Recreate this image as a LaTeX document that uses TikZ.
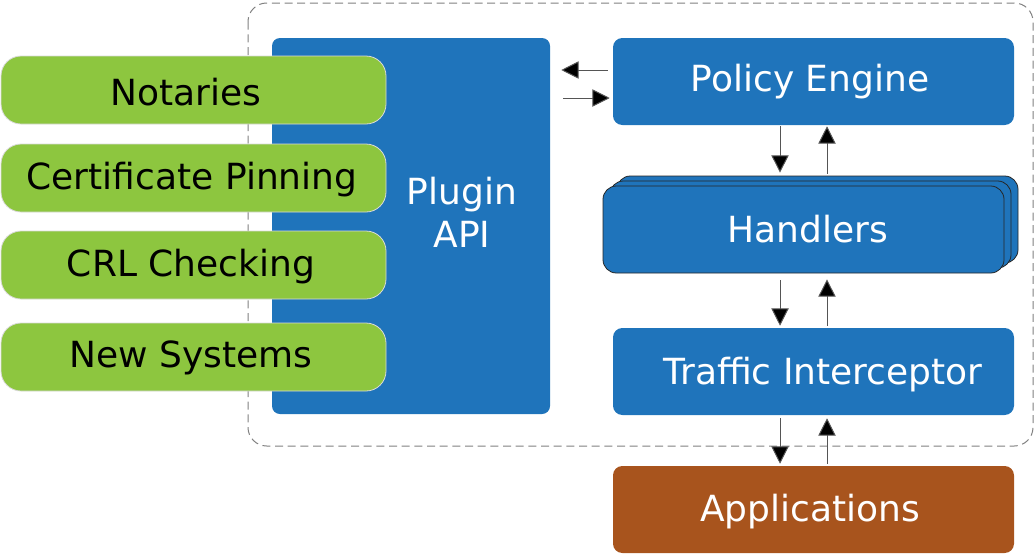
\documentclass[tikz,border=0pt]{standalone}
\usepackage{fontspec}
\setmainfont{DejaVu Sans}
\usetikzlibrary{arrows.meta,calc}
\definecolor{cblue}{HTML}{1F74BB}
\definecolor{cgreen}{HTML}{8DC63F}
\definecolor{cbrown}{HTML}{A8541D}
\definecolor{cline}{HTML}{555555}
\tikzset{
  greenbox/.style={draw=white!85!black, line width=0.6pt, fill=cgreen, rounded corners=15pt,
    minimum width=288.75pt, minimum height=51pt, inner sep=0pt},
  bluebox/.style={fill=cblue, rounded corners=7pt, minimum width=300.75pt, minimum height=65.25pt,
    inner sep=0pt},
  stackbox/.style={draw=black!85, line width=0.6pt, fill=cblue, rounded corners=10pt,
    minimum width=300.75pt, minimum height=65.25pt, inner sep=0pt},
  label/.style={text=white, inner sep=0pt, align=center, font=\fontsize{27}{32.5}\selectfont},
  blabel/.style={text=black, inner sep=0pt, align=center, font=\fontsize{27}{32.5}\selectfont},
  arr/.style={draw=cline, line width=0.75pt, -{Triangle[length=13pt,width=13pt,fill=black]}},
}
\begin{document}
\begin{tikzpicture}[x=0.75pt,y=-0.75pt]
\useasboundingbox (0,0) rectangle (1034,554);
% outer dashed frame
\draw[draw=gray, line width=0.75pt, dash pattern=on 6pt off 3.5pt, rounded corners=14pt]
  (248,3) rectangle (1033,446);
% plugin API
\node[fill=cblue, rounded corners=6pt, minimum width=208.5pt, minimum height=282pt, inner sep=0pt] (api) at (411,226) {};
\node[label] (apitext) at (462,212) {Plugin\\API};
% green boxes
\node[greenbox] (notaries) at (193.5,90) {};
\node[greenbox] (pinning) at (193.5,178) {};
\node[greenbox] (crl) at (193.5,265) {};
\node[greenbox] (newsys) at (193.5,357) {};
\node[blabel] (notariestext) at (186,92) {Notaries};
\node[blabel] (pinningtext) at (192,180) {Certificate Pinning};
\node[blabel] (crltext) at (191,267) {CRL Checking};
\node[blabel] (newsystext) at (191,358) {New Systems};
% right column
\node[bluebox] (pe) at (813.5,81.5) {};
\node[label] (petext) at (810,82) {Policy Engine};
\node[stackbox] (h3) at (817.5,219.5) {};
\node[stackbox] (h2) at (810.5,224.5) {};
\node[stackbox] (h) at (803.5,229.5) {};
\node[label] (htext) at (808,229) {Handlers};
\node[bluebox] (ti) at (813.5,371.5) {};
\node[label] (titext) at (823,375) {Traffic Interceptor};
\node[bluebox, fill=cbrown] (apps) at (813.5,509.5) {};
\node[label] (appstext) at (810,512) {Applications};
% arrows
\coordinate (xd) at (780,0);
\coordinate (xu) at (827,0);
\coordinate (yl) at (0,70);
\coordinate (yr) at (0,98);
\draw[arr, shorten <=5pt*0.75, shorten >=11pt*0.75] (pe.west |- yl) -- (api.east |- yl);
\draw[arr, shorten <=13pt*0.75, shorten >=3pt*0.75] (api.east |- yr) -- (pe.west |- yr);
\draw[arr, shorten <=1pt*0.75, shorten >=3pt*0.75] (pe.south -| xd) -- (h3.north -| xd);
\draw[arr, shorten <=2pt*0.75, shorten >=1pt*0.75] (h3.north -| xu) -- (pe.south -| xu);
\draw[arr, shorten <=7pt*0.75, shorten >=2pt*0.75] (h.south -| xd) -- (ti.north -| xd);
\draw[arr, shorten <=2pt*0.75, shorten >=6pt*0.75] (ti.north -| xu) -- (h.south -| xu);
\draw[arr, shorten <=3pt*0.75, shorten >=2pt*0.75] (ti.south -| xd) -- (apps.north -| xd);
\draw[arr, shorten <=2pt*0.75, shorten >=3pt*0.75] (apps.north -| xu) -- (ti.south -| xu);
\end{tikzpicture}
\end{document}
